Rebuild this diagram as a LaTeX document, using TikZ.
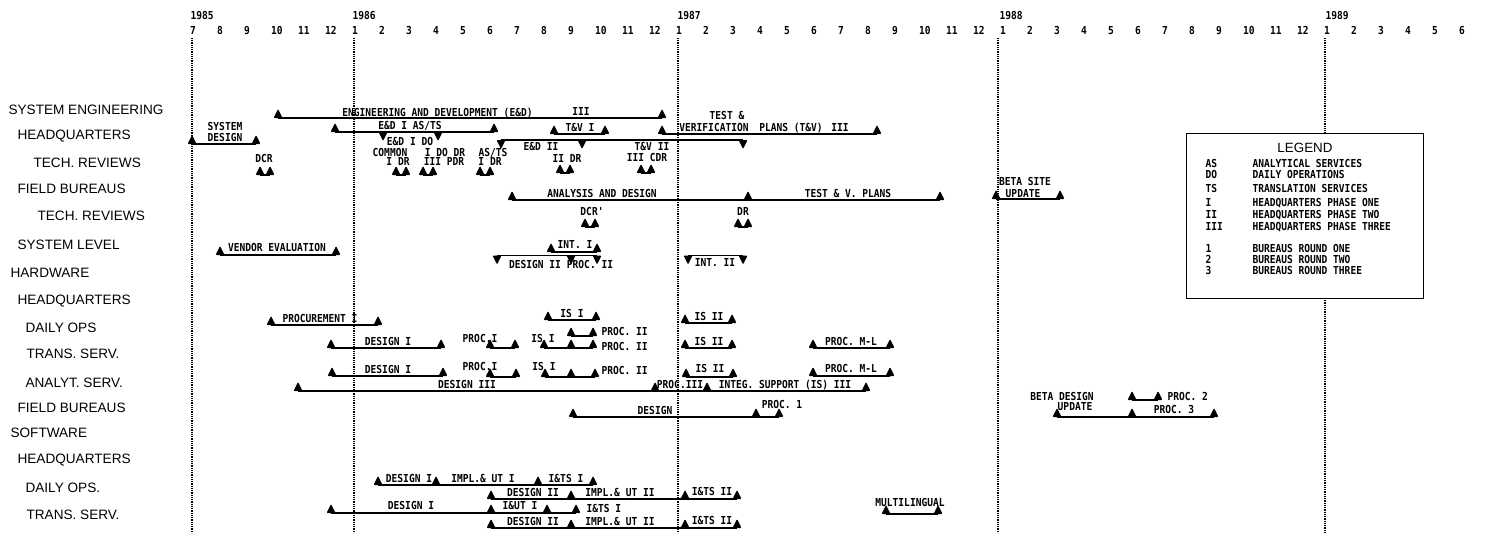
\documentclass[tikz,border=0pt]{standalone}
\usepackage{fontspec}
\setmainfont{Liberation Sans}
\newfontfamily\plotfont[FakeStretch=0.87]{DejaVu Sans Mono}
% milestone marks
\newcommand{\upm}[1]{\fill[tri] (#1) ++(-4.5,0) -- ++(9,0) -- ++(-4.5,-9) -- cycle;}
\newcommand{\dnm}[1]{\fill[tri] (#1) ++(-4.5,0) -- ++(9,0) -- ++(-4.5,9) -- cycle;}
\newcommand{\pairm}[1]{\upm{[xshift=-5pt]#1}\upm{[xshift=5pt]#1}\draw ([xshift=-5pt]#1) -- ([xshift=5pt]#1);}
\begin{document}
\begin{tikzpicture}[x=1pt, y=-1pt, line width=1.1pt,
    lbl/.style={font=\plotfont\bfseries\fontsize{11}{12}\selectfont, inner sep=0pt, anchor=base},
    lblw/.style={lbl, anchor=base west},
    row/.style={font=\fontsize{13.6}{15}\selectfont, inner sep=0pt, anchor=west},
    grid/.style={line width=1.4pt, dash pattern=on 0.9pt off 0.9pt},
    tri/.style={rounded corners=1pt}]
\useasboundingbox (0,0) rectangle (1488,533);

% time axis
\foreach \yr/\x in {1985/190, 1986/352, 1987/677, 1988/999, 1989/1325}
  \node[lblw] (y\yr) at (\x,19) {\yr};
\foreach \m in {0,...,47} {
  \pgfmathtruncatemacro\mon{mod(\m+6,12)+1}
  \node[lblw] (m\m) at (189.5+27*\m,34) {\mon};
}
\foreach \x in {192,354,678,998}
  \draw[grid] (\x,38) -- (\x,533);
\draw[grid] (1325,38) -- (1325,133);
\draw[grid] (1325,298) -- (1325,533);

% row titles
\foreach \t/\x/\y [count=\i] in {SYSTEM ENGINEERING/8/110, HEADQUARTERS/17/136,
    TECH. REVIEWS/33/163, FIELD BUREAUS/17/189, TECH. REVIEWS/37/216,
    SYSTEM LEVEL/17/245, HARDWARE/10/273, HEADQUARTERS/17/301, DAILY OPS/25/328,
    TRANS. SERV./26/354, ANALYT. SERV./25/383, FIELD BUREAUS/17/408,
    SOFTWARE/10/433, HEADQUARTERS/17/460, DAILY OPS./25/488, TRANS. SERV./26/515}
  \node[row] (r\i) at (\x,\y) {\t};

% system engineering
\coordinate (ed-a) at (278,118); \coordinate (ed-b) at (662,118);
\draw (ed-a) -- (ed-b);
\upm{ed-a} \upm{ed-b}
\node[lbl] (ed) at (437.5,116) {ENGINEERING AND DEVELOPMENT (E\&D)};
\node[lbl] (ed3) at (581,115) {III};

% headquarters
\coordinate (sd-a) at (192,144); \coordinate (sd-b) at (256,144);
\draw (sd-a) -- (sd-b);
\upm{sd-a} \upm{sd-b}
\node[lbl] (sd1) at (225,130) {SYSTEM};
\node[lbl] (sd2) at (225,141) {DESIGN};

\coordinate (e1-a) at (335,132); \coordinate (e1-b) at (494,132);
\coordinate (e1-c) at (383,132); \coordinate (e1-d) at (438,132);
\draw (e1-a) -- (e1-b);
\upm{e1-a} \upm{e1-b} \dnm{e1-c} \dnm{e1-d}
\node[lbl] (e1) at (410,129) {E\&D I AS/TS};

\coordinate (tv1-a) at (554,134); \coordinate (tv1-b) at (605,134);
\draw (tv1-a) -- (tv1-b);
\upm{tv1-a} \upm{tv1-b}
\node[lbl] (tv1) at (580,131) {T\&V I};

\coordinate (tv-a) at (662,134); \coordinate (tv-b) at (877,134);
\draw (tv-a) -- (tv-b);
\upm{tv-a} \upm{tv-b}
\node[lbl] (tv0) at (727,119) {TEST \&};
\node[lbl] (tv9) at (714,131) {VERIFICATION};
\node[lbl] (tvp) at (791,131) {PLANS (T\&V)};
\node[lbl] (tv3) at (840,131) {III};

\coordinate (e2-a) at (501,140); \coordinate (e2-b) at (582,140); \coordinate (e2-c) at (743,140);
\draw (e2-a) -- (e2-c);
\dnm{e2-a} \dnm{e2-b} \dnm{e2-c}
\node[lbl] (e2) at (541,150) {E\&D II};

% tech. reviews
\coordinate (p1) at (265,175); \pairm{p1}
\node[lbl] (dcr) at (264,162) {DCR};
\coordinate (p2) at (401,175); \pairm{p2}
\node[lbl] (cm0) at (410,145) {E\&D I DO};
\node[lbl] (cm1) at (390,156) {COMMON};
\node[lbl] (cm2) at (398,165) {I DR};
\coordinate (p3) at (428,175); \pairm{p3}
\node[lbl] (pd1) at (445,156) {I DO DR};
\node[lbl] (pd2) at (444,165) {III PDR};
\coordinate (p4) at (485,175); \pairm{p4}
\node[lbl] (as1) at (493,156) {AS/TS};
\node[lbl] (as2) at (490,165) {I DR};
\coordinate (p5) at (565,173); \pairm{p5}
\node[lbl] (dr2) at (567,162) {II DR};
\coordinate (p6) at (646,173); \pairm{p6}
\node[lbl] (cd1) at (652,150) {T\&V II};
\node[lbl] (cd2) at (647,161) {III CDR};

% field bureaus
\coordinate (an-a) at (512,200); \coordinate (an-b) at (748,200); \coordinate (an-c) at (940,200);
\draw (an-a) -- (an-c);
\upm{an-a} \upm{an-b} \upm{an-c}
\node[lbl] (an) at (602,197) {ANALYSIS AND DESIGN};
\node[lbl] (tp) at (848,197) {TEST \& V. PLANS};
\coordinate (bs-a) at (996,199); \coordinate (bs-b) at (1060,199);
\draw (bs-a) -- (bs-b);
\upm{bs-a} \upm{bs-b}
\node[lbl] (bs1) at (1025,185) {BETA SITE};
\node[lbl] (bs2) at (1023,197) {UPDATE};

% tech. reviews (field)
\coordinate (p7) at (590,227); \pairm{p7}
\node[lbl] (dcrp) at (592,215) {DCR'};
\coordinate (p8) at (743,227); \pairm{p8}
\node[lbl] (dr) at (743,215) {DR};

% system level
\coordinate (ve-a) at (220,255); \coordinate (ve-b) at (336,255);
\draw (ve-a) -- (ve-b);
\upm{ve-a} \upm{ve-b}
\node[lbl] (ve) at (277,251) {VENDOR EVALUATION};
\coordinate (i1-a) at (551,252); \coordinate (i1-b) at (597,252);
\draw (i1-a) -- (i1-b);
\upm{i1-a} \upm{i1-b}
\node[lbl] (i1) at (575,248) {INT. I};
\coordinate (d2-a) at (497,255.5); \coordinate (d2-b) at (571,255.5); \coordinate (d2-c) at (597,255.5);
\draw (d2-a) -- (d2-c);
\dnm{d2-a} \dnm{d2-b} \dnm{d2-c}
\node[lbl] (d2) at (535,268) {DESIGN II};
\node[lbl] (pc2) at (590,268) {PROC. II};
\coordinate (i2-a) at (688,255.5); \coordinate (i2-b) at (743,255.5);
\draw (i2-a) -- (i2-b);
\dnm{i2-a} \dnm{i2-b}
\node[lbl] (i2) at (715,266) {INT. II};

% hardware: headquarters
\coordinate (pr-a) at (271,325); \coordinate (pr-b) at (378,325);
\draw (pr-a) -- (pr-b);
\upm{pr-a} \upm{pr-b}
\node[lbl] (pr) at (320,322) {PROCUREMENT I};
\coordinate (is1-a) at (548,320); \coordinate (is1-b) at (596,320);
\draw (is1-a) -- (is1-b);
\upm{is1-a} \upm{is1-b}
\node[lbl] (is1) at (572,317) {IS I};
\coordinate (is2-a) at (685,323); \coordinate (is2-b) at (732,323);
\draw (is2-a) -- (is2-b);
\upm{is2-a} \upm{is2-b}
\node[lbl] (is2) at (709,320) {IS II};

% daily ops
\coordinate (dp-a) at (571,336); \coordinate (dp-b) at (593,336);
\draw (dp-a) -- (dp-b);
\upm{dp-a} \upm{dp-b}
\node[lblw] (dp) at (601,335) {PROC. II};

% trans. serv.
\coordinate (tdi-a) at (331,348); \coordinate (tdi-b) at (441,348);
\draw (tdi-a) -- (tdi-b);
\upm{tdi-a} \upm{tdi-b}
\node[lbl] (tdi) at (388,345) {DESIGN I};
\coordinate (tpi-a) at (490,348); \coordinate (tpi-b) at (515,348);
\draw (tpi-a) -- (tpi-b);
\upm{tpi-a} \upm{tpi-b}
\node[lbl] (tpi) at (480,342) {PROC.I};
\coordinate (tis-a) at (544,348); \coordinate (tis-b) at (571,348); \coordinate (tis-c) at (593,348);
\draw (tis-a) -- (tis-c);
\upm{tis-a} \upm{tis-b} \upm{tis-c}
\node[lbl] (tis) at (543,342) {IS I};
\node[lblw] (tpc) at (601,350) {PROC. II};
\coordinate (tis2-a) at (685,348); \coordinate (tis2-b) at (732,348);
\draw (tis2-a) -- (tis2-b);
\upm{tis2-a} \upm{tis2-b}
\node[lbl] (tis2) at (709,345) {IS II};
\coordinate (tml-a) at (813,348); \coordinate (tml-b) at (890,348);
\draw (tml-a) -- (tml-b);
\upm{tml-a} \upm{tml-b}
\node[lbl] (tml) at (851,345) {PROC. M-L};

% analyt. serv.
\coordinate (adi-a) at (332,376); \coordinate (adi-b) at (443,376);
\draw (adi-a) -- (adi-b);
\upm{adi-a} \upm{adi-b}
\node[lbl] (adi) at (388,373) {DESIGN I};
\coordinate (api-a) at (490,377); \coordinate (api-b) at (516,377);
\draw (api-a) -- (api-b);
\upm{api-a} \upm{api-b}
\node[lbl] (api) at (480,370) {PROC.I};
\coordinate (ais-a) at (545,377); \coordinate (ais-b) at (571,377); \coordinate (ais-c) at (595,377);
\draw (ais-a) -- (ais-c);
\upm{ais-a} \upm{ais-b} \upm{ais-c}
\node[lbl] (ais) at (544,370) {IS I};
\node[lblw] (apc) at (601,374) {PROC. II};
\coordinate (ais2-a) at (686,377); \coordinate (ais2-b) at (733,377);
\draw (ais2-a) -- (ais2-b);
\upm{ais2-a} \upm{ais2-b}
\node[lbl] (ais2) at (710,372) {IS II};
\coordinate (aml-a) at (813,376); \coordinate (aml-b) at (890,376);
\draw (aml-a) -- (aml-b);
\upm{aml-a} \upm{aml-b}
\node[lbl] (aml) at (851,372) {PROC. M-L};
\coordinate (d3-a) at (298,391); \coordinate (d3-b) at (655,391);
\coordinate (d3-c) at (707,391); \coordinate (d3-d) at (866,391);
\draw (d3-a) -- (d3-d);
\upm{d3-a} \upm{d3-b} \upm{d3-c} \upm{d3-d}
\node[lbl] (d3) at (467,388) {DESIGN III};
\node[lbl] (pc3) at (680,388) {PROC.III};
\node[lbl] (ins) at (785,388) {INTEG. SUPPORT (IS) III};

% field bureaus (hardware)
\coordinate (fd-a) at (573,417); \coordinate (fd-b) at (756,417); \coordinate (fd-c) at (779,417);
\draw (fd-a) -- (fd-c);
\upm{fd-a} \upm{fd-b} \upm{fd-c}
\node[lbl] (fd) at (655,414) {DESIGN};
\node[lbl] (fp1) at (782,408) {PROC. 1};
\coordinate (bd-a) at (1057,417); \coordinate (bd-b) at (1132,417); \coordinate (bd-c) at (1214,417);
\draw (bd-a) -- (bd-c);
\upm{bd-a} \upm{bd-b} \upm{bd-c}
\node[lbl] (bd1) at (1062,400) {BETA DESIGN};
\node[lbl] (bd2) at (1075,410) {UPDATE};
\node[lbl] (fp3) at (1174,413) {PROC. 3};
\coordinate (fp2-a) at (1132,400); \coordinate (fp2-b) at (1158,400);
\draw (fp2-a) -- (fp2-b);
\upm{fp2-a} \upm{fp2-b}
\node[lblw] (fp2) at (1167,400) {PROC. 2};

% software
\coordinate (s1-a) at (378,485); \coordinate (s1-b) at (436,485);
\coordinate (s1-c) at (538,485); \coordinate (s1-d) at (593,485);
\draw (s1-a) -- (s1-d);
\upm{s1-a} \upm{s1-b} \upm{s1-c} \upm{s1-d}
\node[lbl] (s1d) at (409,482) {DESIGN I};
\node[lbl] (s1i) at (483,482) {IMPL.\& UT I};
\node[lbl] (s1t) at (566,482) {I\&TS I};

\coordinate (s2-a) at (491,499); \coordinate (s2-b) at (571,499);
\coordinate (s2-c) at (685,499); \coordinate (s2-d) at (737,499);
\draw (s2-a) -- (s2-d);
\upm{s2-a} \upm{s2-b} \upm{s2-c} \upm{s2-d}
\node[lbl] (s2d) at (533,496) {DESIGN II};
\node[lbl] (s2i) at (620,496) {IMPL.\& UT II};
\node[lbl] (s2t) at (712,495) {I\&TS II};

\coordinate (s3-a) at (331,513); \coordinate (s3-b) at (491,513);
\coordinate (s3-c) at (547,513); \coordinate (s3-d) at (576,513);
\draw (s3-a) -- (s3-d);
\upm{s3-a} \upm{s3-b} \upm{s3-c} \upm{s3-d}
\node[lbl] (s3d) at (411,509) {DESIGN I};
\node[lbl] (s3u) at (520,509) {I\&UT I};
\node[lblw] (s3t) at (586,512) {I\&TS I};

\coordinate (s4-a) at (491,528); \coordinate (s4-b) at (571,528);
\coordinate (s4-c) at (685,528); \coordinate (s4-d) at (737,528);
\draw (s4-a) -- (s4-d);
\upm{s4-a} \upm{s4-b} \upm{s4-c} \upm{s4-d}
\node[lbl] (s4d) at (533,525) {DESIGN II};
\node[lbl] (s4i) at (620,525) {IMPL.\& UT II};
\node[lbl] (s4t) at (712,524) {I\&TS II};

\coordinate (ml-a) at (886,514); \coordinate (ml-b) at (938,514);
\draw (ml-a) -- (ml-b);
\upm{ml-a} \upm{ml-b}
\node[lbl] (ml) at (910,506) {MULTILINGUAL};

% legend
\node[draw, line width=1pt, inner sep=0pt, minimum width=237pt, minimum height=165pt] (legend) at (1304.5,215.5) {};
\node[font=\fontsize{13.4}{15}\selectfont, inner sep=0pt] (lg) at (1305,148) {LEGEND};
\foreach \a/\b/\y [count=\i] in {AS/ANALYTICAL SERVICES/167, DO/DAILY OPERATIONS/178,
    TS/TRANSLATION SERVICES/192, I/HEADQUARTERS PHASE ONE/206,
    II/HEADQUARTERS PHASE TWO/218, III/HEADQUARTERS PHASE THREE/230,
    1/BUREAUS ROUND ONE/252, 2/BUREAUS ROUND TWO/263, 3/BUREAUS ROUND THREE/274} {
  \node[lblw] (la\i) at (1205,\y) {\a};
  \node[lblw] (lb\i) at (1252,\y) {\b};
}
\end{tikzpicture}
\end{document}
